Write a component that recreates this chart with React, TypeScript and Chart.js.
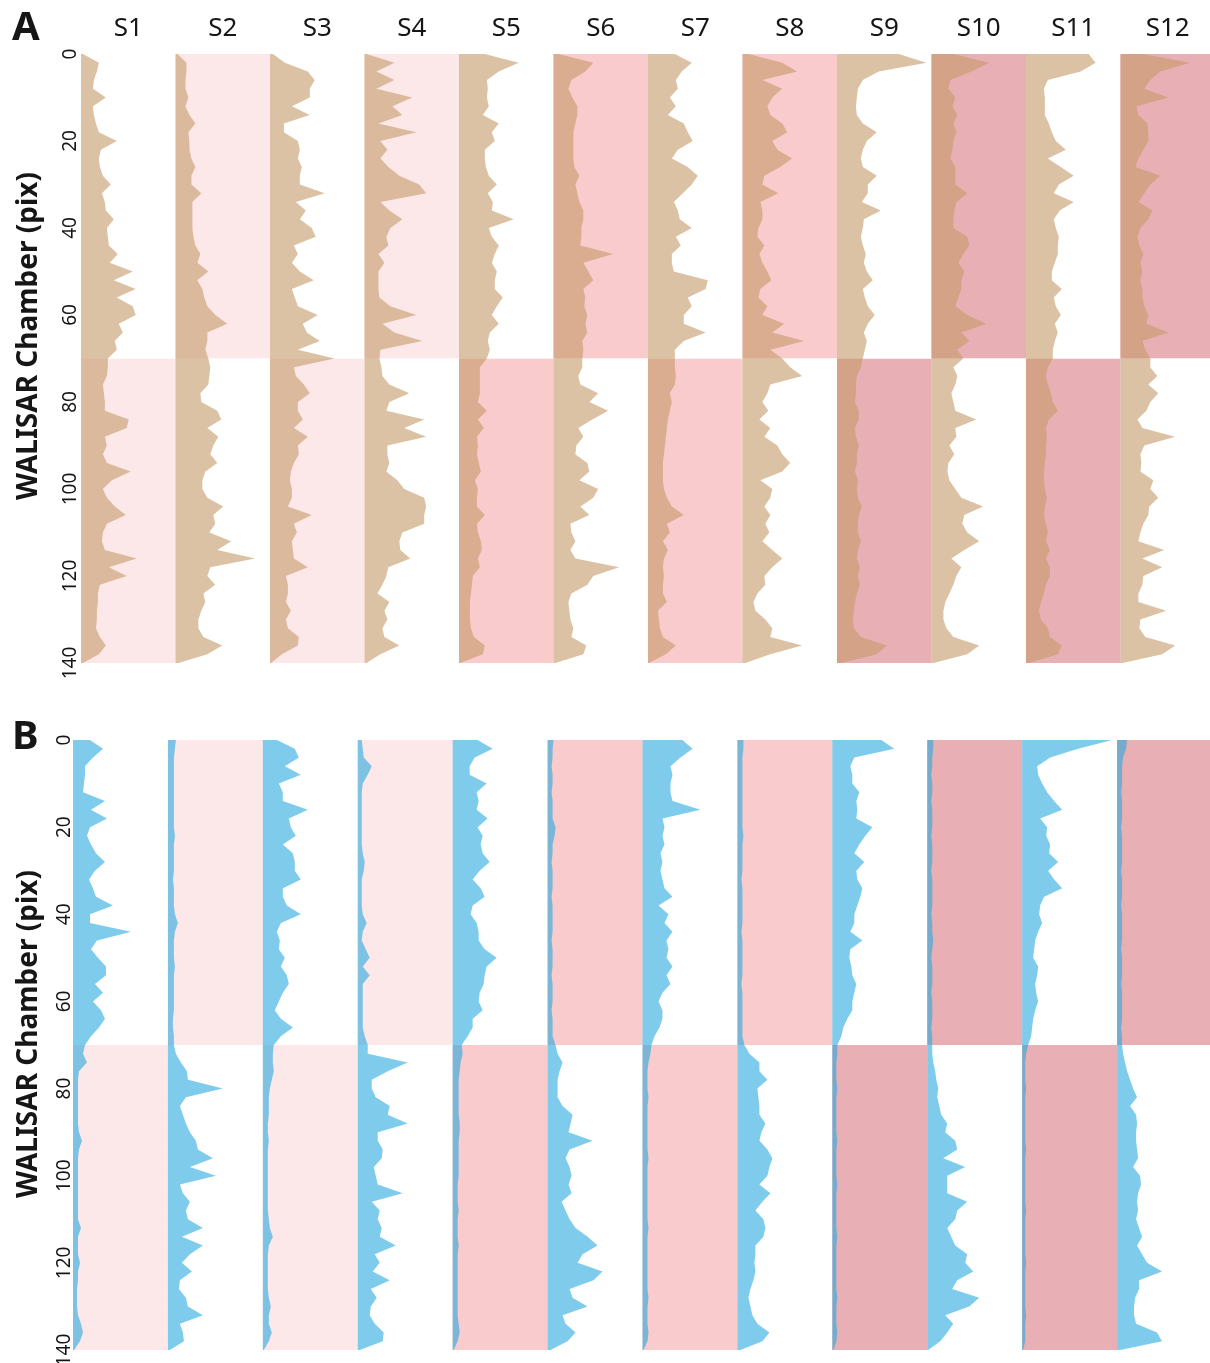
import React, { useEffect, useRef } from 'react';
import { Chart, registerables } from 'chart.js';

Chart.register(...registerables);

// Positions along the chamber (pix) where every intensity profile is sampled
const DEPTH = [
  0, 2, 4, 6, 8, 10, 12, 14, 16, 18, 20, 22, 24, 26, 28, 30, 32, 34, 36, 38, 40, 42, 44, 46, 48, 50,
  52, 54, 56, 58, 60, 62, 64, 66, 68, 70, 72, 74, 76, 78, 80, 82, 84, 86, 88, 90, 92, 94, 96, 98, 100,
  102, 104, 106, 108, 110, 112, 114, 116, 118, 120, 122, 124, 126, 128, 130, 132, 134, 136, 138, 140,
];

const SAMPLE_LABELS = ['S1', 'S2', 'S3', 'S4', 'S5', 'S6', 'S7', 'S8', 'S9', 'S10', 'S11', 'S12'];
const Y_TICKS = [0, 20, 40, 60, 80, 100, 120, 140];

// Which half of each sample column is shaded, and how strong the shade is
const SHADED_HALF = ['bottom', 'top', 'bottom', 'top', 'bottom', 'top', 'bottom', 'top', 'bottom', 'top', 'bottom', 'top'];
const SHADE_LEVEL = [0, 0, 0, 0, 1, 1, 1, 1, 2, 2, 2, 2];
const SHADE_COLORS = ['#fce8e8', '#f9cbcc', '#e8afb5'];
const HALF_RANGES: Record<string, [number, number]> = { top: [0, 70], bottom: [70, 140] };

// Panel A intensity profiles (one value per DEPTH entry)
const A_S1 = [2,18,16,13,12,25,12,13,15,18,36,20,18,19,22,30,21,24,25,33,26,27,28,37,29,52,33,55,36,52,55,38,42,34,36,27,
  27,26,22,23,24,24,48,46,24,26,22,26,50,31,22,26,34,45,26,22,21,24,56,28,46,19,17,17,16,16,15,19,25,18,2];
const A_S2 = [2,11,11,10,10,13,10,14,20,13,14,14,16,20,16,16,26,17,17,17,17,18,20,25,22,33,22,27,29,32,40,52,32,32,30,33,
  35,34,33,25,26,42,46,32,43,38,35,42,30,27,27,32,48,38,40,34,56,42,80,35,32,40,28,30,26,23,23,28,47,32,3];
const A_S3 = [3,15,38,45,40,40,22,40,14,14,28,30,28,32,30,30,55,26,36,30,42,46,24,28,22,30,44,22,25,28,48,33,37,50,28,65,
  24,26,34,40,28,28,33,24,38,28,29,24,21,20,22,22,18,42,24,27,22,23,24,38,16,18,18,16,21,16,18,29,28,12,1];
const A_S4 = [2,30,12,30,12,48,28,38,14,52,16,23,16,24,35,55,62,16,25,38,26,22,24,14,20,14,14,14,15,26,52,18,30,58,16,15,
  17,18,25,45,25,22,60,40,62,23,23,25,22,33,40,60,62,60,60,38,35,36,46,24,22,18,13,25,20,23,18,20,35,16,2];
const A_S5 = [26,60,40,28,29,28,30,24,40,33,36,26,26,27,30,38,29,34,33,55,30,33,40,36,33,38,36,36,44,38,33,40,31,29,31,28,
  21,21,21,21,19,28,19,25,18,19,18,20,22,16,19,18,18,26,18,19,22,23,19,21,14,13,12,11,11,11,12,15,26,24,1];
const A_S6 = [5,40,32,18,15,19,24,24,22,20,20,20,20,21,26,22,24,26,30,30,28,28,27,60,30,35,40,30,32,31,34,32,34,29,30,29,
  29,25,27,45,36,55,39,25,30,23,22,34,36,26,45,40,27,36,17,18,22,17,22,66,40,34,18,15,16,17,20,18,33,30,2];
const A_S7 = [27,44,34,28,30,22,28,20,36,40,45,30,24,40,50,44,35,26,30,32,44,28,33,24,24,26,60,58,40,44,36,36,58,36,27,27,
  27,28,27,22,24,22,20,19,18,17,16,15,15,15,16,19,24,36,19,22,15,20,16,15,16,15,15,19,10,11,12,15,28,18,1];
const A_S8 = [6,40,55,20,40,30,25,28,40,45,30,35,50,38,22,20,36,18,20,20,16,15,22,17,20,25,29,18,16,25,20,42,30,62,28,40,
  48,60,28,25,20,26,17,28,22,35,40,48,40,18,30,28,22,28,23,27,20,30,40,30,22,23,15,11,13,23,30,28,60,28,3];
const A_S9 = [62,90,42,26,21,20,19,20,26,40,30,26,24,26,40,31,31,25,44,27,26,24,26,29,27,30,36,26,28,31,38,31,27,30,28,26,
  24,20,19,19,18,22,22,18,19,22,20,20,18,21,20,21,25,22,21,21,24,21,20,23,21,23,20,18,17,16,17,24,50,40,4];
const A_S10 = [22,58,40,19,17,24,21,26,22,25,22,21,19,24,24,24,36,25,23,22,22,36,38,32,27,33,30,30,27,24,36,55,30,38,26,32,
  22,26,24,20,22,24,45,24,25,18,23,17,16,18,24,30,52,33,31,36,48,33,20,30,25,22,18,14,12,12,15,22,48,36,2];
const A_S11 = [63,70,55,22,18,19,19,19,23,26,30,40,22,35,48,33,28,48,34,28,30,33,32,32,29,26,26,36,28,30,35,29,32,29,27,27,
  22,20,22,25,27,32,23,20,21,20,20,19,18,18,19,21,19,18,20,22,20,24,20,24,24,20,18,15,13,15,22,24,36,32,3];
const A_S12 = [23,70,40,30,24,48,16,18,27,28,28,23,18,15,40,30,24,18,32,28,20,17,19,23,20,22,20,22,22,24,28,26,48,22,25,30,
  30,37,28,38,30,26,17,22,55,24,20,21,20,33,30,38,29,28,23,20,18,44,22,42,23,22,18,18,46,20,19,25,55,42,2];

// Panel B intensity profiles
const B_S1 = [17,30,20,12,12,11,10,32,18,34,17,14,18,23,32,22,16,20,23,40,17,17,58,24,18,25,33,33,22,30,20,28,32,26,18,12,
  10,14,6,5,5,5,5,5,5,6,9,6,5,5,5,5,5,5,5,5,8,5,5,5,7,5,5,4,4,4,5,8,10,7,1];
const B_S2 = [8,7,6,6,6,6,6,6,6,6,6,7,6,6,6,6,5,6,6,6,7,10,7,6,6,6,7,6,6,6,6,6,5,5,6,6,
  8,13,19,20,55,18,12,15,18,22,28,30,45,22,48,12,15,22,18,20,35,14,35,22,14,24,12,11,18,20,35,12,15,16,2];
const B_S3 = [14,32,36,22,38,16,20,20,45,26,28,33,20,30,32,32,38,20,20,24,38,18,14,17,16,22,18,24,26,20,16,12,18,30,18,11,
  10,10,11,9,7,6,6,6,5,5,6,5,5,5,5,5,5,5,5,6,7,10,6,5,5,5,5,5,6,8,6,6,9,6,1];
const B_S4 = [4,5,6,14,10,5,4,4,4,4,4,4,4,5,7,6,4,4,4,4,5,9,5,4,8,12,5,12,5,5,5,5,5,5,7,10,
  10,50,30,14,14,18,32,30,50,20,20,25,24,16,18,20,45,14,22,20,24,22,38,17,22,15,32,13,19,13,12,17,26,25,2];
const B_S5 = [25,40,22,17,17,34,24,26,24,35,25,30,28,30,37,27,20,28,32,20,18,24,26,26,32,44,34,32,31,27,26,30,20,20,15,9,
  10,8,7,6,6,6,6,6,7,7,6,6,6,6,6,5,5,5,6,5,5,5,6,5,5,5,5,5,5,5,5,6,7,5,1];
const B_S6 = [6,5,5,4,5,5,4,5,5,5,8,7,5,5,4,5,5,5,4,5,5,5,5,4,5,5,5,4,5,5,5,4,5,5,5,8,
  10,15,12,10,10,10,15,25,23,21,45,22,18,22,24,21,24,14,18,22,28,40,50,35,30,55,46,22,25,40,15,18,28,20,3];
const B_S7 = [40,50,38,28,30,28,28,30,58,20,22,20,22,18,20,18,20,22,30,16,26,22,30,24,26,24,30,24,28,20,16,20,20,17,12,9,
  8,6,5,5,5,6,5,5,5,5,5,5,6,5,5,5,5,5,5,5,6,5,5,5,5,5,5,5,6,5,5,5,6,5,1];
const B_S8 = [6,6,5,5,5,5,5,5,5,5,5,6,5,5,5,5,4,5,5,5,5,5,4,5,5,5,5,5,4,5,5,5,5,5,5,7,
  12,22,22,30,20,21,22,22,28,24,22,30,35,32,30,22,33,25,18,26,28,26,18,18,17,18,16,13,11,13,15,20,32,25,3];
const B_S9 = [49,62,22,18,20,20,27,24,25,24,40,33,27,22,32,24,25,30,28,25,22,22,18,30,18,17,19,20,24,22,20,20,15,11,9,5,
  5,4,4,4,5,4,4,4,4,4,5,4,4,4,4,5,4,4,4,4,4,5,4,4,4,4,4,4,5,4,4,4,5,4,1];
const B_S10 = [6,6,5,5,4,5,5,4,5,5,5,4,5,5,5,4,5,5,5,5,4,5,5,6,5,4,5,5,5,4,5,5,5,4,5,5,
  5,6,8,9,11,10,12,14,20,18,28,30,16,38,20,20,20,40,30,28,20,24,28,40,38,46,30,25,52,42,18,26,20,13,1];
const B_S11 = [90,56,28,15,16,20,25,32,40,18,25,24,28,27,36,26,32,40,22,18,17,20,16,13,12,11,16,15,13,14,16,13,11,10,9,6,
  4,3,3,3,4,3,3,3,3,3,3,4,3,3,3,3,3,3,4,3,3,3,3,3,4,3,3,3,3,3,4,3,3,3,1];
const B_S12 = [10,9,6,5,5,5,4,5,5,5,4,5,5,5,5,4,5,5,5,4,5,5,5,5,4,5,5,5,4,5,5,5,5,4,5,5,
  6,8,10,13,16,20,13,19,20,19,19,20,21,16,23,24,21,20,21,19,22,25,20,25,30,45,22,22,18,17,17,19,40,45,3];

const PANEL_A_PROFILES = [A_S1, A_S2, A_S3, A_S4, A_S5, A_S6, A_S7, A_S8, A_S9, A_S10, A_S11, A_S12];
const PANEL_B_PROFILES = [B_S1, B_S2, B_S3, B_S4, B_S5, B_S6, B_S7, B_S8, B_S9, B_S10, B_S11, B_S12];

// x units taken by one sample column
const COLUMN_SPAN = 95;
const FONT = '"Noto Sans", sans-serif';
const INK = '#161616';

// Draws the panel letter and the rotated y-axis title
const panelDecor = {
  id: 'panelDecor',
  afterDraw(chart: any, _args: any, opts: any) {
    const { ctx } = chart;
    ctx.save();
    ctx.fillStyle = INK;
    ctx.textAlign = 'left';
    ctx.textBaseline = 'alphabetic';
    ctx.font = `bold 40px ${FONT}`;
    ctx.fillText(opts.letter, opts.letterX, opts.letterBaseline);
    ctx.translate(opts.titleX, opts.titleY);
    ctx.rotate(-Math.PI / 2);
    ctx.textAlign = 'center';
    ctx.font = `bold 28px ${FONT}`;
    ctx.fillText(opts.title, 0, 0);
    ctx.restore();
  },
};

type PanelProps = {
  letter: string;
  profiles: number[][];
  color: string;
  top: number;
  height: number;
  plotLeft: number;
  plotTop: number;
  plotBottom: number;
  xMax: number;
  tickPadding: number;
  showSampleLabels: boolean;
  letterBaseline: number;
  titleY: number;
};

function Panel(props: PanelProps) {
  const ref = useRef<HTMLCanvasElement | null>(null);

  useEffect(() => {
    if (!ref.current) return;
    const datasets: any[] = [];

    props.profiles.forEach((vals, c) => {
      const base = c * COLUMN_SPAN;
      datasets.push({
        label: SAMPLE_LABELS[c],
        data: DEPTH.map((d, i) => ({ x: base + vals[i], y: d })),
        fill: { value: base },
        backgroundColor: props.color,
        borderWidth: 0,
        pointRadius: 0,
        order: 1,
      });
    });

    SHADED_HALF.forEach((half, c) => {
      const [y0, y1] = HALF_RANGES[half];
      const base = c * COLUMN_SPAN;
      datasets.push({
        label: `${SAMPLE_LABELS[c]} shaded`,
        data: [
          { x: base + COLUMN_SPAN, y: y0 },
          { x: base + COLUMN_SPAN, y: y1 },
        ],
        fill: { value: base },
        backgroundColor: SHADE_COLORS[SHADE_LEVEL[c]],
        borderWidth: 0,
        pointRadius: 0,
        order: 2,
      });
    });

    const show = props.showSampleLabels;
    const chart = new Chart(ref.current, {
      type: 'line',
      data: { datasets },
      options: {
        indexAxis: 'y',
        animation: false,
        responsive: false,
        events: [],
        layout: {
          padding: {
            top: show ? 0 : props.plotTop,
            bottom: props.height - props.plotBottom,
            left: 0,
            right: 0,
          },
        },
        plugins: {
          legend: { display: false },
          tooltip: { enabled: false },
          panelDecor: {
            letter: props.letter,
            letterX: 12,
            letterBaseline: props.letterBaseline,
            title: 'WALISAR Chamber (pix)',
            titleX: 37,
            titleY: props.titleY,
          },
        } as any,
        scales: {
          x: {
            type: 'linear',
            position: 'top',
            min: 0,
            max: props.xMax,
            display: show,
            grid: { display: false, drawTicks: false },
            border: { display: false },
            afterBuildTicks: (axis: any) => {
              axis.ticks = SAMPLE_LABELS.map((_, i) => ({ value: (i + 0.5) * COLUMN_SPAN }));
            },
            afterFit: (axis: any) => {
              axis.height = show ? props.plotTop : 0;
            },
            ticks: {
              autoSkip: false,
              minRotation: 0,
              maxRotation: 0,
              padding: 10,
              color: INK,
              font: { family: FONT, size: 26 },
              callback: (_v: any, i: number) => SAMPLE_LABELS[i],
            },
          },
          y: {
            type: 'linear',
            position: 'left',
            min: 0,
            max: 140,
            reverse: true,
            grid: { display: false, drawTicks: false },
            border: { display: false },
            afterBuildTicks: (axis: any) => {
              axis.ticks = Y_TICKS.map((v) => ({ value: v }));
            },
            afterFit: (axis: any) => {
              axis.width = props.plotLeft;
            },
            ticks: {
              autoSkip: false,
              minRotation: 90,
              maxRotation: 90,
              crossAlign: 'center',
              padding: props.tickPadding,
              color: INK,
              font: { family: FONT, size: 19 },
            },
          },
        } as any,
      },
      plugins: [panelDecor],
    });

    return () => chart.destroy();
  }, []);

  return (
    <canvas
      ref={ref}
      width={1210}
      height={props.height}
      style={{ position: 'absolute', left: 0, top: props.top, width: 1210, height: props.height }}
    />
  );
}

export default function App() {
  return (
    <div style={{ position: 'absolute', left: 0, top: 0, width: 1210, height: 1363, background: '#ffffff' }}>
      <Panel
        letter="A"
        profiles={PANEL_A_PROFILES}
        color="rgba(197, 153, 105, 0.6)"
        top={0}
        height={680}
        plotLeft={81}
        plotTop={54}
        plotBottom={663}
        xMax={1135}
        tickPadding={-6}
        showSampleLabels={true}
        letterBaseline={40}
        titleY={336}
      />
      <Panel
        letter="B"
        profiles={PANEL_B_PROFILES}
        color="rgba(40, 168, 222, 0.6)"
        top={680}
        height={683}
        plotLeft={73}
        plotTop={60}
        plotBottom={670}
        xMax={1138}
        tickPadding={-8}
        showSampleLabels={false}
        letterBaseline={69}
        titleY={354}
      />
    </div>
  );
}
